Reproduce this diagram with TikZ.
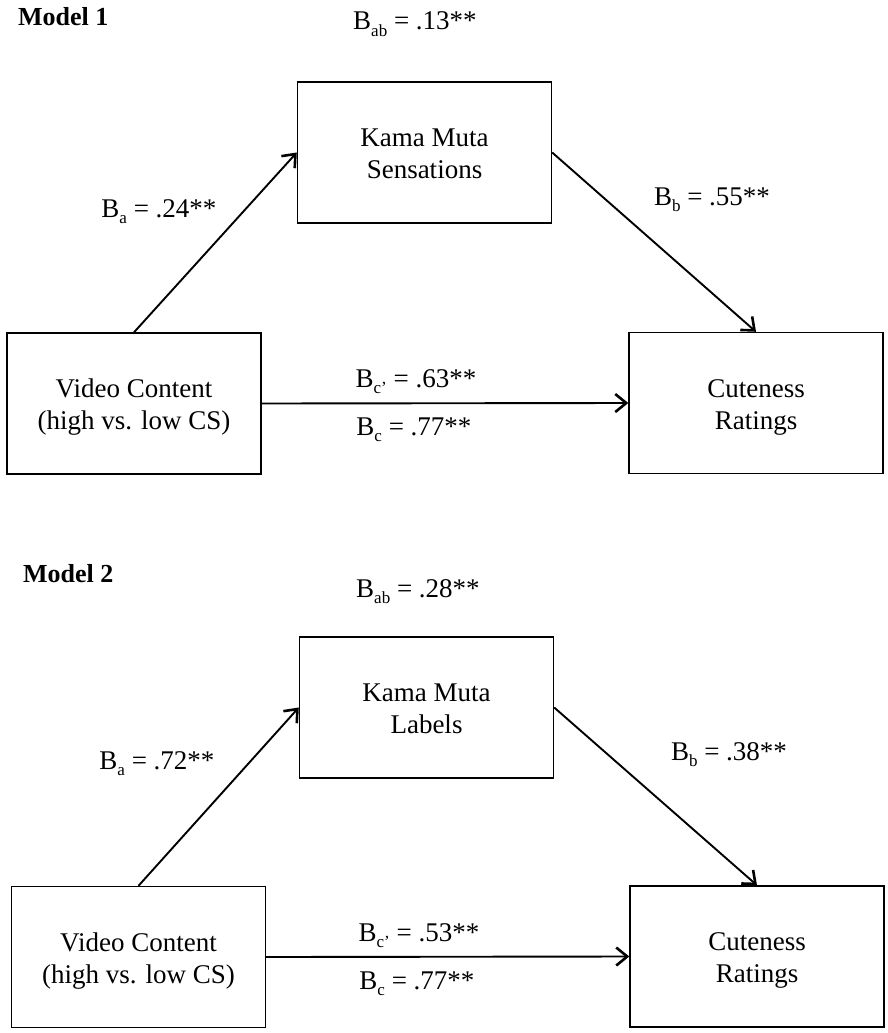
\documentclass[tikz,border=0pt]{standalone}
\usepackage{fontspec}
\setmainfont{Liberation Serif}
\usetikzlibrary{arrows.meta,positioning}

\newcommand{\lowsub}[1]{\raisebox{-0.55ex}{\fontsize{17}{17}\selectfont #1}}
\newcommand{\boxtext}[1]{\raisebox{-4pt}[\height][\depth]{\begin{tabular}{@{}c@{}}#1\end{tabular}}}

\tikzset{
	var/.style={draw, line width=1.4pt, rectangle,
		minimum width=254pt, minimum height=141pt, inner sep=0pt},
	effect/.style={line width=1.9pt, -{Straight Barb[length=11pt,width=18pt,line width=2.6pt]}},
	coef/.style={anchor=base, inner sep=0pt},
	heading/.style={anchor=base west, inner sep=0pt, font=\fontsize{26}{30}\selectfont\bfseries},
}

\begin{document}
\begin{tikzpicture}[
				x=1pt, y=-1pt,
				font=\fontsize{27}{32}\selectfont,
			]
			\useasboundingbox (0,0) rectangle (888,1033);

			\node[heading] (model1) at (18,26) {Model 1};
			\node[var] (kama1) at (424.5,152.5) {\boxtext{Kama Muta\\Sensations}};
			\node[var] (video1) at (134,403.5) {\boxtext{Video Content\\(high vs. low CS)}};
			\node[var] (cute1) at (756,403) {\boxtext{Cuteness\\Ratings}};

			\draw[effect] (video1.north) -- (kama1.west);
			\draw[effect] (kama1.east) -- (cute1.north);
			\draw[effect] (video1.east) -- (cute1.west);

			\node[coef] (ab1) at (415,30) {B\lowsub{ab} = .13**};
			\node[coef] (a1) at (159,217) {B\lowsub{a} = .24**};
			\node[coef] (b1) at (712,205) {B\lowsub{b} = .55**};
			\node[coef] (cp1) at (416,387) {B\lowsub{c’} = .63**};
			\node[coef] (c1) at (414,435) {B\lowsub{c} = .77**};

			\node[heading] (model2) at (23,582) {Model 2};
			\node[var] (kama2) at (426.5,707.5) {\boxtext{Kama Muta\\Labels}};
			\node[var] (video2) at (138.5,957) {\boxtext{Video Content\\(high vs. low CS)}};
			\node[var] (cute2) at (757,956.5) {\boxtext{Cuteness\\Ratings}};

			\draw[effect] (video2.north) -- (kama2.west);
			\draw[effect] (kama2.east) -- (cute2.north);
			\draw[effect] (video2.east) -- (cute2.west);

			\node[coef] (ab2) at (418,597) {B\lowsub{ab} = .28**};
			\node[coef] (a2) at (157,769) {B\lowsub{a} = .72**};
			\node[coef] (b2) at (729,760) {B\lowsub{b} = .38**};
			\node[coef] (cp2) at (419,941) {B\lowsub{c’} = .53**};
			\node[coef] (c2) at (417,989) {B\lowsub{c} = .77**};

		\end{tikzpicture}
\end{document}
